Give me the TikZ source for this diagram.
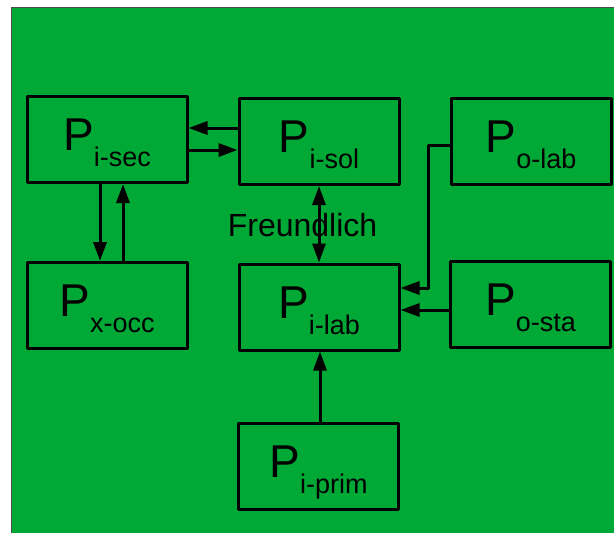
\documentclass[tikz,border=0pt]{standalone}
\usepackage{fontspec}
\setmainfont{Liberation Sans}
\usetikzlibrary{arrows.meta,calc}
\definecolor{bg}{RGB}{0,168,54}
\newcommand\plab[1]{\fontsize{46}{50}\selectfont P\raisebox{-16pt}{\fontsize{27}{30}\selectfont #1}}
\begin{document}
\begin{tikzpicture}[x=1pt,y=-1pt,
  box/.style={draw=black,line width=3pt,minimum width=160pt,minimum height=86pt,inner sep=0pt,line join=round},
  lbl/.style={anchor=base,inner sep=0pt},
  arr/.style={line width=3pt,line join=round,-{Triangle[length=19pt,width=13pt]}},
  darr/.style={line width=3pt,{Triangle[length=19pt,width=13pt]}-{Triangle[length=19pt,width=13pt]}}]
\useasboundingbox (0,0) rectangle (614,533);
\fill[bg] (11.5,7.5) rectangle (614,533);
\draw[gray!60!black,line width=1pt] (11.5,533) -- (11.5,7.5) -- (614,7.5);
% boxes
\node[box] (isec) at (107,139.5) {};
\node[box] (isol) at (319,141.5) {};
\node[box] (olab) at (531,141) {};
\node[box] (xocc) at (107,305.5) {};
\node[box] (ilab) at (319,307) {};
\node[box] (osta) at (530.5,304.5) {};
\node[box] (iprim) at (318.5,466.5) {};
% labels
\node[lbl] (isecT) at ($(isec.center)+(0,11)$) {\plab{i-sec}};
\node[lbl] (isolT) at ($(isol.center)+(0,11)$) {\plab{i-sol}};
\node[lbl] (olabT) at ($(olab.center)+(0,11)$) {\plab{o-lab}};
\node[lbl] (xoccT) at ($(xocc.center)+(0,11)$) {\plab{x-occ}};
\node[lbl] (ilabT) at ($(ilab.center)+(0,11)$) {\plab{i-lab}};
\node[lbl] (ostaT) at ($(osta.center)+(0,11)$) {\plab{o-sta}};
\node[lbl] (iprimT) at ($(iprim.center)+(0,11)$) {\plab{i-prim}};
\node[lbl] (fr) at (302.5,236) {\fontsize{32}{35}\selectfont Freundlich};
% connectors
\draw[arr] (isol.west |- 0,128) -- (isec.east |- 0,128);
\draw[arr] (isec.east |- 0,150) -- (isol.west |- 0,150);
\draw[arr] (isec.south -| 100,0) -- (xocc.north -| 100,0);
\draw[arr] (xocc.north -| 123,0) -- (isec.south -| 123,0);
\draw[darr] (isol.south -| 319,0) -- (ilab.north -| 319,0);
\coordinate (bend) at (428,145);
\draw[arr] (olab.west |- bend) -- (bend) |- (ilab.east |- 0,288);
\draw[arr] (osta.west |- 0,310) -- (ilab.east |- 0,310);
\draw[arr] (iprim.north -| 320,0) -- (ilab.south -| 320,0);
\end{tikzpicture}
\end{document}
